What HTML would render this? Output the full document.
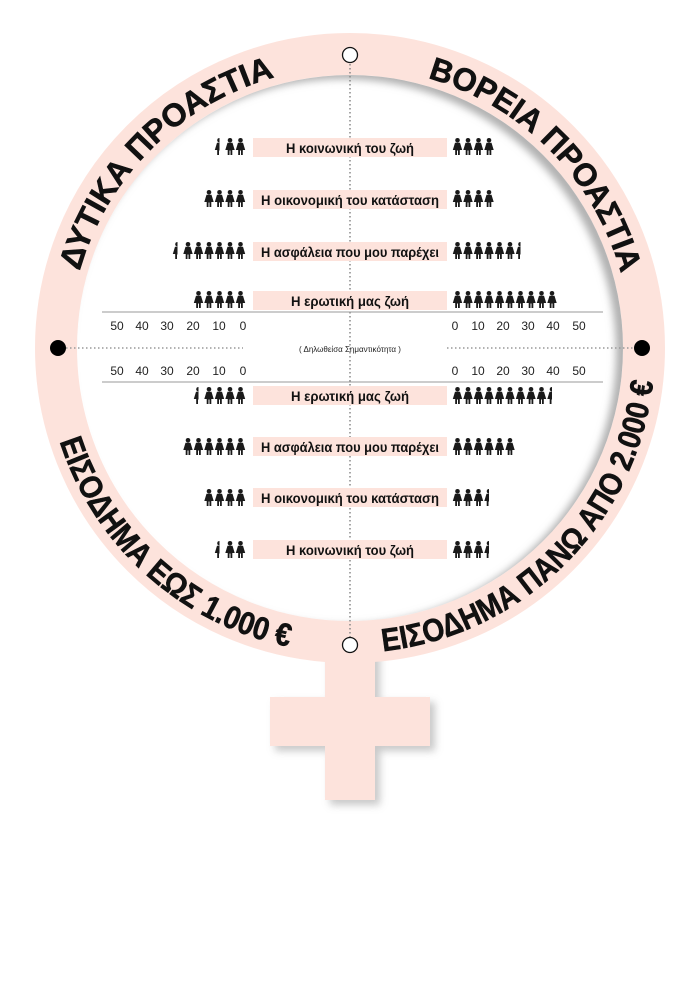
<!DOCTYPE html>
<html><head><meta charset="utf-8"><style>
html,body{margin:0;padding:0;background:#fff;}
svg{display:block;}
.lb{font-family:"Liberation Sans",sans-serif;font-weight:bold;font-size:14px;fill:#111;}
.num{font-family:"Liberation Sans",sans-serif;font-size:12px;fill:#222;}
.arc{font-family:"Liberation Sans",sans-serif;font-weight:bold;font-size:32px;fill:#111;stroke:#111;stroke-width:0.6;}
</style></head><body>
<svg width="700" height="989" viewBox="0 0 700 989" xmlns="http://www.w3.org/2000/svg">
<defs>
<filter id="bl" x="-20%" y="-20%" width="140%" height="140%"><feGaussianBlur stdDeviation="4"/></filter>
<clipPath id="inner"><circle cx="350" cy="348" r="273"/></clipPath>
<clipPath id="half"><rect x="-1" y="-1" width="5.5" height="20"/></clipPath>
<symbol id="w" viewBox="0 0 9 17" overflow="visible">
<circle cx="4.5" cy="2.3" r="2.3" fill="#1a1a1a"/>
<path d="M2,4.8 H7 L9.2,12 H6.8 V17 H5 V12.5 H4 V17 H2.2 V12 H-0.2 Z" fill="#1a1a1a"/>
</symbol>
<symbol id="h" viewBox="0 0 9 17" overflow="visible">
<g clip-path="url(#half)">
<circle cx="4.5" cy="2.3" r="2.3" fill="#1a1a1a"/>
<path d="M2,4.8 H7 L9.2,12 H6.8 V17 H5 V12.5 H4 V17 H2.2 V12 H-0.2 Z" fill="#1a1a1a"/>
</g>
</symbol>
<path id="top" d="M69,348 A281,281 0 0 1 631,348"/>
<path id="bot" d="M45,348 A305,305 0 0 0 655,348"/>
</defs>

<g filter="url(#bl)" fill="#bbb" opacity="0.8">
<rect x="330" y="640" width="50" height="165"/><rect x="275" y="702" width="160" height="49"/>
</g>
<rect x="325" y="640" width="50" height="160" fill="#fde3dc"/>
<rect x="270" y="697" width="160" height="49" fill="#fde3dc"/>

<circle cx="350" cy="348" r="294" fill="none" stroke="#fde3dc" stroke-width="42"/>
<g clip-path="url(#inner)">
<circle cx="343" cy="352" r="280" fill="none" stroke="#b0b0b0" stroke-width="14" filter="url(#bl)"/>
</g>

<line x1="350" y1="60" x2="350" y2="640" stroke="#888" stroke-width="1.5" stroke-dasharray="1.5,2.5"/>
<line x1="62" y1="348" x2="243" y2="348" stroke="#999" stroke-width="1.5" stroke-dasharray="1.5,2.5"/>
<line x1="447" y1="348" x2="636" y2="348" stroke="#999" stroke-width="1.5" stroke-dasharray="1.5,2.5"/>
<circle cx="350" cy="55" r="7.5" fill="#fff" stroke="#111" stroke-width="1.3"/>
<circle cx="350" cy="645" r="7.5" fill="#fff" stroke="#111" stroke-width="1.3"/>
<circle cx="58" cy="348" r="8" fill="#000"/>
<circle cx="642" cy="348" r="8" fill="#000"/>

<text class="arc"><textPath href="#top" startOffset="78" textLength="287" lengthAdjust="spacingAndGlyphs">ΔΥΤΙΚΑ ΠΡΟΑΣΤΙΑ</textPath></text>
<text class="arc"><textPath href="#top" startOffset="520" textLength="287" lengthAdjust="spacingAndGlyphs">ΒΟΡΕΙΑ ΠΡΟΑΣΤΙΑ</textPath></text>
<text class="arc"><textPath href="#bot" startOffset="95" textLength="322" lengthAdjust="spacingAndGlyphs">ΕΙΣΟΔΗΜΑ ΕΩΣ 1.000 €</textPath></text>
<text class="arc"><textPath href="#bot" startOffset="512" textLength="412" lengthAdjust="spacingAndGlyphs">ΕΙΣΟΔΗΜΑ ΠΑΝΩ ΑΠΟ 2.000 €</textPath></text>

<g fill="#fde3dc">
<rect x="253" y="138" width="194" height="19"/>
<rect x="253" y="190" width="194" height="19"/>
<rect x="253" y="242" width="194" height="19"/>
<rect x="253" y="291" width="194" height="19"/>
<rect x="253" y="386" width="194" height="19"/>
<rect x="253" y="437" width="194" height="19"/>
<rect x="253" y="488" width="194" height="19"/>
<rect x="253" y="540" width="194" height="19"/>
</g>
<g class="lb" text-anchor="middle">
<text x="350" y="153" textLength="128" lengthAdjust="spacingAndGlyphs">Η κοινωνική του ζωή</text>
<text x="350" y="205" textLength="178" lengthAdjust="spacingAndGlyphs">Η οικονομική του κατάσταση</text>
<text x="350" y="257" textLength="178" lengthAdjust="spacingAndGlyphs">Η ασφάλεια που μου παρέχει</text>
<text x="350" y="306" textLength="118" lengthAdjust="spacingAndGlyphs">Η ερωτική μας ζωή</text>
<text x="350" y="401" textLength="118" lengthAdjust="spacingAndGlyphs">Η ερωτική μας ζωή</text>
<text x="350" y="452" textLength="178" lengthAdjust="spacingAndGlyphs">Η ασφάλεια που μου παρέχει</text>
<text x="350" y="503" textLength="178" lengthAdjust="spacingAndGlyphs">Η οικονομική του κατάσταση</text>
<text x="350" y="555" textLength="128" lengthAdjust="spacingAndGlyphs">Η κοινωνική του ζωή</text>
</g>

<line x1="102" y1="312" x2="603" y2="312" stroke="#999" stroke-width="1"/>
<line x1="102" y1="382" x2="603" y2="382" stroke="#999" stroke-width="1"/>
<g class="num" text-anchor="middle">
<text x="117" y="330">50</text><text x="142" y="330">40</text><text x="167" y="330">30</text><text x="193" y="330">20</text><text x="219" y="330">10</text><text x="243" y="330">0</text>
<text x="455" y="330">0</text><text x="478" y="330">10</text><text x="503" y="330">20</text><text x="528" y="330">30</text><text x="553" y="330">40</text><text x="579" y="330">50</text>
<text x="117" y="375">50</text><text x="142" y="375">40</text><text x="167" y="375">30</text><text x="193" y="375">20</text><text x="219" y="375">10</text><text x="243" y="375">0</text>
<text x="455" y="375">0</text><text x="478" y="375">10</text><text x="503" y="375">20</text><text x="528" y="375">30</text><text x="553" y="375">40</text><text x="579" y="375">50</text>
<text x="350" y="352" style="font-size:8px">( Δηλωθείσα Σημαντικότητα )</text>
</g>

<g>
<use href="#w" x="236" y="138" width="9" height="17"/><use href="#w" x="225.5" y="138" width="9" height="17"/><use href="#h" x="215" y="138" width="9" height="17"/>
<use href="#w" x="453" y="138" width="9" height="17"/><use href="#w" x="463.5" y="138" width="9" height="17"/><use href="#w" x="474" y="138" width="9" height="17"/><use href="#w" x="484.5" y="138" width="9" height="17"/>
<use href="#w" x="236" y="190" width="9" height="17"/><use href="#w" x="225.5" y="190" width="9" height="17"/><use href="#w" x="215" y="190" width="9" height="17"/><use href="#w" x="204.5" y="190" width="9" height="17"/>
<use href="#w" x="453" y="190" width="9" height="17"/><use href="#w" x="463.5" y="190" width="9" height="17"/><use href="#w" x="474" y="190" width="9" height="17"/><use href="#w" x="484.5" y="190" width="9" height="17"/>
<use href="#w" x="236" y="242" width="9" height="17"/><use href="#w" x="225.5" y="242" width="9" height="17"/><use href="#w" x="215" y="242" width="9" height="17"/><use href="#w" x="204.5" y="242" width="9" height="17"/><use href="#w" x="194" y="242" width="9" height="17"/><use href="#w" x="183.5" y="242" width="9" height="17"/><use href="#h" x="173" y="242" width="9" height="17"/>
<use href="#w" x="453" y="242" width="9" height="17"/><use href="#w" x="463.5" y="242" width="9" height="17"/><use href="#w" x="474" y="242" width="9" height="17"/><use href="#w" x="484.5" y="242" width="9" height="17"/><use href="#w" x="495" y="242" width="9" height="17"/><use href="#w" x="505.5" y="242" width="9" height="17"/><use href="#h" x="516" y="242" width="9" height="17"/>
<use href="#w" x="236" y="291" width="9" height="17"/><use href="#w" x="225.5" y="291" width="9" height="17"/><use href="#w" x="215" y="291" width="9" height="17"/><use href="#w" x="204.5" y="291" width="9" height="17"/><use href="#w" x="194" y="291" width="9" height="17"/>
<use href="#w" x="453" y="291" width="9" height="17"/><use href="#w" x="463.5" y="291" width="9" height="17"/><use href="#w" x="474" y="291" width="9" height="17"/><use href="#w" x="484.5" y="291" width="9" height="17"/><use href="#w" x="495" y="291" width="9" height="17"/><use href="#w" x="505.5" y="291" width="9" height="17"/><use href="#w" x="516" y="291" width="9" height="17"/><use href="#w" x="526.5" y="291" width="9" height="17"/><use href="#w" x="537" y="291" width="9" height="17"/><use href="#w" x="547.5" y="291" width="9" height="17"/>
<use href="#w" x="236" y="387" width="9" height="17"/><use href="#w" x="225.5" y="387" width="9" height="17"/><use href="#w" x="215" y="387" width="9" height="17"/><use href="#w" x="204.5" y="387" width="9" height="17"/><use href="#h" x="194" y="387" width="9" height="17"/>
<use href="#w" x="453" y="387" width="9" height="17"/><use href="#w" x="463.5" y="387" width="9" height="17"/><use href="#w" x="474" y="387" width="9" height="17"/><use href="#w" x="484.5" y="387" width="9" height="17"/><use href="#w" x="495" y="387" width="9" height="17"/><use href="#w" x="505.5" y="387" width="9" height="17"/><use href="#w" x="516" y="387" width="9" height="17"/><use href="#w" x="526.5" y="387" width="9" height="17"/><use href="#w" x="537" y="387" width="9" height="17"/><use href="#h" x="547.5" y="387" width="9" height="17"/>
<use href="#w" x="236" y="438" width="9" height="17"/><use href="#w" x="225.5" y="438" width="9" height="17"/><use href="#w" x="215" y="438" width="9" height="17"/><use href="#w" x="204.5" y="438" width="9" height="17"/><use href="#w" x="194" y="438" width="9" height="17"/><use href="#w" x="183.5" y="438" width="9" height="17"/>
<use href="#w" x="453" y="438" width="9" height="17"/><use href="#w" x="463.5" y="438" width="9" height="17"/><use href="#w" x="474" y="438" width="9" height="17"/><use href="#w" x="484.5" y="438" width="9" height="17"/><use href="#w" x="495" y="438" width="9" height="17"/><use href="#w" x="505.5" y="438" width="9" height="17"/>
<use href="#w" x="236" y="489" width="9" height="17"/><use href="#w" x="225.5" y="489" width="9" height="17"/><use href="#w" x="215" y="489" width="9" height="17"/><use href="#w" x="204.5" y="489" width="9" height="17"/>
<use href="#w" x="453" y="489" width="9" height="17"/><use href="#w" x="463.5" y="489" width="9" height="17"/><use href="#w" x="474" y="489" width="9" height="17"/><use href="#h" x="484.5" y="489" width="9" height="17"/>
<use href="#w" x="236" y="541" width="9" height="17"/><use href="#w" x="225.5" y="541" width="9" height="17"/><use href="#h" x="215" y="541" width="9" height="17"/>
<use href="#w" x="453" y="541" width="9" height="17"/><use href="#w" x="463.5" y="541" width="9" height="17"/><use href="#w" x="474" y="541" width="9" height="17"/><use href="#h" x="484.5" y="541" width="9" height="17"/>
</g>
</svg>
</body></html>
